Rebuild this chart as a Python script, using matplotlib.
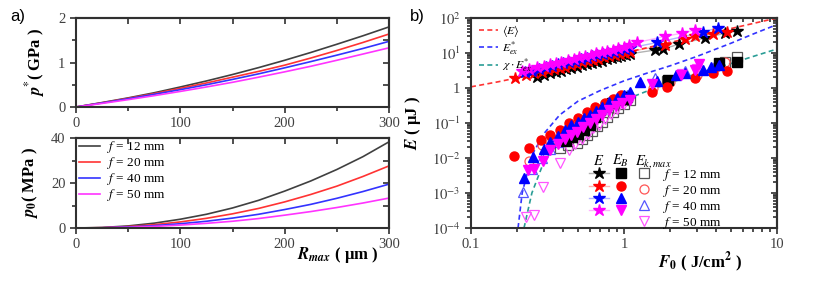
import matplotlib
matplotlib.use('Agg')
import matplotlib.pyplot as plt
from matplotlib.lines import Line2D
from matplotlib.ticker import FixedLocator, FixedFormatter, MultipleLocator, LogLocator, NullFormatter

# ---- panel a data ----
r_max = [0, 25, 50, 75, 100, 125, 150, 175, 200, 225, 250, 275, 300]
focal = ['12', '20', '40', '50']
pstar_12 = [0, 0.10, 0.205, 0.32, 0.45, 0.585, 0.73, 0.885, 1.05, 1.225, 1.41, 1.60, 1.80]
pstar_20 = [0, 0.095, 0.195, 0.30, 0.42, 0.54, 0.67, 0.80, 0.94, 1.10, 1.27, 1.45, 1.64]
pstar_40 = [0, 0.09, 0.185, 0.285, 0.39, 0.50, 0.62, 0.745, 0.88, 1.02, 1.165, 1.315, 1.475]
pstar_50 = [0, 0.08, 0.165, 0.255, 0.35, 0.45, 0.555, 0.67, 0.79, 0.915, 1.05, 1.19, 1.33]
p0_12 = [0, 0.22, 0.92, 2.15, 3.9, 6.1, 8.9, 12.3, 16.4, 20.9, 26.0, 31.7, 38.3]
p0_20 = [0, 0.15, 0.63, 1.48, 2.7, 4.3, 6.3, 8.7, 11.6, 14.9, 18.6, 22.9, 27.6]
p0_40 = [0, 0.11, 0.44, 1.04, 1.9, 3.0, 4.4, 6.1, 8.2, 10.5, 13.2, 16.2, 19.5]
p0_50 = [0, 0.075, 0.30, 0.71, 1.3, 2.07, 3.0, 4.2, 5.7, 7.3, 9.1, 11.1, 13.3]

# ---- panel b: model curves ----
fit_mean_F = [0.1, 0.15, 0.2, 0.3, 0.5, 0.7, 1.0, 2.0, 3.0, 5.0, 7.0, 10.0]
fit_mean_E = [1.08, 1.5, 1.95, 2.9, 4.9, 7.0, 10.0, 20.0, 30.0, 50.0, 70.0, 100.0]
fit_ex_F = [0.203, 0.216, 0.25, 0.3, 0.38, 0.5, 0.7, 1.0, 1.5, 2.0, 3.0, 5.0, 7.0, 10.0]
fit_ex_E = [1e-4, 1e-3, 0.012, 0.05, 0.17, 0.42, 0.85, 1.6, 2.9, 4.3, 8.0, 19.0, 35.0, 65.0]
fit_chi_F = [0.222, 0.25, 0.3, 0.4, 0.5, 0.7, 1.0, 1.5, 2.0, 3.0, 5.0, 7.0, 10.0]
fit_chi_E = [1e-4, 1e-3, 8e-3, 0.04, 0.09, 0.22, 0.45, 0.9, 1.4, 2.6, 5.0, 8.0, 13.0]

# ---- panel b: total energy E (stars) ----
star12_F = [0.27, 0.30, 0.33, 0.36, 0.39, 0.42, 0.45, 0.49, 0.53, 0.57, 0.62, 0.67, 0.72, 0.78, 0.84, 0.90, 0.96, 1.03, 1.10, 1.6, 1.8, 2.3, 3.4, 4.6, 5.5]
star12_E = [2.05, 2.3, 2.6, 2.9, 3.1, 3.4, 3.7, 4.0, 4.4, 4.8, 5.2, 5.6, 6.0, 6.6, 7.1, 7.7, 8.3, 8.9, 9.5, 12.2, 13.0, 18, 27, 37, 43]
star20_F = [0.195, 0.23, 0.26, 0.29, 0.32, 0.35, 0.38, 0.41, 0.45, 0.49, 0.53, 0.58, 0.63, 0.68, 0.74, 0.80, 0.87, 0.94, 1.02, 1.10, 1.85, 2.5, 2.9, 3.8, 4.7]
star20_E = [1.9, 2.3, 2.6, 2.9, 3.2, 3.5, 3.8, 4.1, 4.5, 4.9, 5.4, 5.9, 6.4, 6.9, 7.5, 8.1, 8.8, 9.5, 10.3, 11.0, 17, 25, 30, 36, 40]
star40_F = [0.225, 0.25, 0.28, 0.31, 0.34, 0.37, 0.40, 0.44, 0.48, 0.52, 0.57, 0.62, 0.67, 0.73, 0.79, 0.86, 0.93, 1.01, 1.10, 1.65, 3.3, 4.1]
star40_E = [2.8, 3.1, 3.5, 3.9, 4.3, 4.7, 5.1, 5.6, 6.1, 6.7, 7.3, 8.0, 8.7, 9.4, 10.2, 11.0, 12.0, 13.0, 14.0, 20, 40, 52]
star50_F = [0.215, 0.24, 0.27, 0.30, 0.33, 0.36, 0.39, 0.43, 0.47, 0.51, 0.56, 0.61, 0.66, 0.72, 0.78, 0.85, 0.92, 1.0, 1.08, 1.22, 1.86, 2.4, 2.9]
star50_E = [3.0, 3.5, 3.9, 4.3, 4.8, 5.2, 5.7, 6.3, 6.9, 7.5, 8.2, 8.9, 9.7, 10.6, 11.5, 12.5, 13.6, 15, 16.5, 20, 30, 37, 45]

# ---- panel b: bubble energy E_B (filled) ----
eb12_F = [0.42, 0.46, 0.50, 0.55, 0.60, 0.65, 0.70, 0.76, 0.83, 0.91, 0.98, 1.05, 1.93, 4.2, 5.5]
eb12_E = [0.03, 0.04, 0.05, 0.065, 0.085, 0.15, 0.24, 0.3, 0.38, 0.46, 0.5, 0.55, 1.7, 5.2, 5.6]
eb20_F = [0.192, 0.24, 0.286, 0.33, 0.38, 0.44, 0.50, 0.57, 0.65, 0.75, 0.85, 0.95, 1.52, 1.9, 2.9, 3.8, 4.7]
eb20_E = [0.0114, 0.019, 0.033, 0.046, 0.063, 0.10, 0.14, 0.2, 0.28, 0.38, 0.5, 0.62, 0.75, 1.1, 1.9, 2.6, 3.1]
eb40_F = [0.222, 0.254, 0.30, 0.33, 0.37, 0.41, 0.45, 0.50, 0.55, 0.60, 0.66, 0.72, 0.80, 0.90, 1.0, 1.09, 1.28, 1.64, 2.2, 2.5, 3.3, 3.7, 4.2]
eb40_E = [0.0026, 0.0106, 0.018, 0.028, 0.042, 0.063, 0.085, 0.11, 0.14, 0.17, 0.22, 0.29, 0.40, 0.52, 0.64, 0.77, 1.5, 1.6, 2.3, 2.6, 3.3, 4.0, 4.6]
eb50_F = [0.236, 0.26, 0.296, 0.33, 0.37, 0.41, 0.45, 0.49, 0.54, 0.60, 0.66, 0.72, 0.80, 0.88, 0.97, 1.09, 1.52, 2.37, 2.9, 3.1]
eb50_E = [0.0046, 0.0047, 0.008, 0.017, 0.025, 0.034, 0.045, 0.056, 0.075, 0.1, 0.13, 0.17, 0.23, 0.3, 0.38, 0.46, 1.3, 2.4, 3.3, 5.0]

# ---- panel b: max kinetic energy E_k,max (open) ----
ek12_F = [0.38, 0.43, 0.49, 0.53, 0.57, 0.62, 0.67, 0.72, 0.78, 0.85, 0.92, 1.0, 1.1, 1.9, 4.6, 5.5]
ek12_E = [0.019, 0.024, 0.027, 0.035, 0.045, 0.06, 0.08, 0.11, 0.15, 0.2, 0.26, 0.34, 0.45, 1.6, 5.6, 7.7]
ek20_F = [0.24, 0.29, 0.34, 0.40, 0.46, 0.53, 0.60, 0.68, 0.78, 0.9, 1.0, 1.55, 2.0, 3.0, 4.0, 4.6]
ek20_E = [0.008, 0.023, 0.035, 0.05, 0.08, 0.12, 0.17, 0.24, 0.33, 0.45, 0.6, 1.0, 1.5, 2.4, 4.0, 5.6]
ek40_F = [0.219, 0.25, 0.29, 0.33, 0.37, 0.42, 0.47, 0.53, 0.59, 0.66, 0.74, 0.83, 0.93, 1.05, 1.6, 2.5, 4.0]
ek40_E = [0.0011, 0.005, 0.01, 0.018, 0.028, 0.045, 0.065, 0.09, 0.13, 0.18, 0.25, 0.35, 0.48, 0.65, 1.9, 3.1, 5.2]
ek50_F = [0.229, 0.26, 0.296, 0.38, 0.44, 0.48, 0.53, 0.58, 0.63, 0.69, 0.75, 0.82, 0.9, 1.0, 1.55, 2.4, 3.0]
ek50_E = [0.0002, 0.00023, 0.0015, 0.0073, 0.017, 0.025, 0.035, 0.05, 0.07, 0.09, 0.13, 0.18, 0.25, 0.34, 1.2, 2.5, 3.5]

# ---- style ----
plt.rcParams['font.family'] = ['Liberation Serif', 'DejaVu Serif']
plt.rcParams['mathtext.fontset'] = 'stix'
TICK_COL = '#404040'
SPINE_COL = '#303030'
LINE_COLS = ['#404040', '#FF3333', '#3333FF', '#FF33FF']
DOT_COLS = ['#000000', '#FF0000', '#0000FF', '#FF00FF']
OPEN_COLS = ['#555555', '#FF5555', '#5555FF', '#FF55FF']
FILL_MARK = ['s', 'o', '^', 'v']


def Frame(ax):
    # Frame(): thick spines, outward ticks bottom/left, inward ticks top/right
    for s in ax.spines.values():
        s.set_linewidth(1.5)
        s.set_color(SPINE_COL)
    ax.tick_params(which='both', direction='out', colors=SPINE_COL, labelcolor=TICK_COL,
                   labelsize=10.5, width=1.2)
    ax.tick_params(which='major', length=4)
    ax.tick_params(which='minor', length=3)
    top = ax.secondary_xaxis('top')
    right = ax.secondary_yaxis('right')
    for sec in (top, right):
        sec.tick_params(which='both', direction='in', colors=SPINE_COL, width=1.2,
                        labelleft=False, labelright=False, labeltop=False, labelbottom=False)
        sec.tick_params(which='major', length=4)
        sec.tick_params(which='minor', length=3)
        for s in sec.spines.values():
            s.set_linewidth(1.5)
            s.set_color(SPINE_COL)
    return top, right


fig = plt.figure(figsize=(8.30, 2.81), dpi=100)
W, H = 830.0, 281.0
ax1 = fig.add_axes([76 / W, 1 - 107 / H, 313 / W, 89 / H])
ax2 = fig.add_axes([76 / W, 1 - 228 / H, 313 / W, 90 / H])
axb = fig.add_axes([471 / W, 1 - 228 / H, 306 / W, 210 / H])

# ---- panel a ----
pstar_all = [pstar_12, pstar_20, pstar_40, pstar_50]
p0_all = [p0_12, p0_20, p0_40, p0_50]
for i in range(4):
    ax1.plot(r_max, pstar_all[i], color=LINE_COLS[i], lw=1.2)
    ax2.plot(r_max, p0_all[i], color=LINE_COLS[i], lw=1.2, label=r'$f$ = ' + focal[i] + ' mm')

for ax, ylim, major, minor in ((ax1, (0, 2), 1, 0.5), (ax2, (0, 40), 20, 10)):
    ax.set_xlim(0, 300)
    ax.set_ylim(*ylim)
    ax.xaxis.set_major_locator(MultipleLocator(100))
    ax.xaxis.set_minor_locator(MultipleLocator(50))
    ax.yaxis.set_major_locator(MultipleLocator(major))
    ax.yaxis.set_minor_locator(MultipleLocator(minor))
    t, r = Frame(ax)
    t.xaxis.set_major_locator(MultipleLocator(50))
    r.yaxis.set_major_locator(MultipleLocator(minor))

ax1.set_ylabel(r'$\mathbfit{p}^{*}$( GPa )', fontsize=12, fontweight='bold', labelpad=8)
ax2.set_ylabel(r'$\mathbfit{p}_{\mathbf{0}}$( MPa )', fontsize=12, fontweight='bold', labelpad=8)
ax2.set_xlabel(r'$\mathbfit{R}_{\mathbfit{max}}$ ( μm )', fontsize=12, fontweight='bold')
ax2.xaxis.set_label_coords(0.835, -0.19)
ax2.legend(loc='upper left', bbox_to_anchor=(0.01, 0.985), frameon=False, fontsize=9.5,
           handlelength=1.55, handletextpad=0.55, labelspacing=0.0, borderpad=0, borderaxespad=0)

# ---- panel b ----
axb.set_xscale('log')
axb.set_yscale('log')
axb.plot(fit_mean_F, fit_mean_E, ls=(0, (3, 2)), color='#FF3333', lw=1.2, zorder=1, label=r'$\langle E\rangle$')
axb.plot(fit_ex_F, fit_ex_E, ls=(0, (3, 2)), color='#3333FF', lw=1.2, zorder=1, label=r'$E^{*}_{ex}$')
axb.plot(fit_chi_F, fit_chi_E, ls=(0, (3, 2)), color='#2A9D96', lw=1.2, zorder=1, label=r'$\chi\cdot E^{*}_{ex}$')
leg1 = axb.legend(loc='upper left', bbox_to_anchor=(0.025, 0.975), frameon=False, fontsize=8.5,
                  handlelength=1.6, handletextpad=0.4, labelspacing=0.0, borderpad=0, borderaxespad=0)
axb.add_artist(leg1)

star_F = [star12_F, star20_F, star40_F, star50_F]
star_E = [star12_E, star20_E, star40_E, star50_E]
eb_F = [eb12_F, eb20_F, eb40_F, eb50_F]
eb_E = [eb12_E, eb20_E, eb40_E, eb50_E]
ek_F = [ek12_F, ek20_F, ek40_F, ek50_F]
ek_E = [ek12_E, ek20_E, ek40_E, ek50_E]
for i in range(4):
    axb.plot(star_F[i], star_E[i], color=DOT_COLS[i], alpha=0.3, lw=1.0, zorder=2)
    axb.plot(star_F[i], star_E[i], ls='none', marker='*', ms=9, color=DOT_COLS[i], mec=DOT_COLS[i], zorder=3)
for i in range(4):
    axb.plot(ek_F[i], ek_E[i], ls='none', marker=FILL_MARK[i], ms=6.5, mfc='none', mec=OPEN_COLS[i], mew=0.9, zorder=3)
    axb.plot(eb_F[i], eb_E[i], ls='none', marker=FILL_MARK[i], ms=6.5, color=DOT_COLS[i], zorder=4)

axb.set_xlim(0.1, 10)
axb.set_ylim(1e-4, 1e2)
axb.xaxis.set_major_locator(FixedLocator([0.1, 1, 10]))
axb.xaxis.set_major_formatter(FixedFormatter(['0.1', '1', '10']))
axb.xaxis.set_minor_locator(LogLocator(base=10, subs=range(2, 10)))
axb.xaxis.set_minor_formatter(NullFormatter())
axb.yaxis.set_major_locator(FixedLocator([1e-4, 1e-3, 1e-2, 1e-1, 1, 10, 100]))
axb.yaxis.set_major_formatter(FixedFormatter([r'$10^{-4}$', r'$10^{-3}$', r'$10^{-2}$', r'$10^{-1}$', '1', r'$10^{1}$', r'$10^{2}$']))
axb.yaxis.set_minor_locator(LogLocator(base=10, subs=range(2, 10)))
axb.yaxis.set_minor_formatter(NullFormatter())
tb, rb = Frame(axb)
tb.xaxis.set_minor_locator(LogLocator(base=10, subs=range(2, 10)))
rb.yaxis.set_minor_locator(LogLocator(base=10, subs=range(2, 10)))

axb.set_ylabel(r'$\mathbfit{E}$ ( μJ )', fontsize=12, fontweight='bold', labelpad=6)
axb.set_xlabel(r'$\mathbfit{F}_{\mathbf{0}}$ ( J/cm$^{\mathbf{2}}$ )', fontsize=12, fontweight='bold')
axb.xaxis.set_label_coords(0.75, -0.105)

# table legend: E | E_B | E_k,max
handles = []
labels = []
for i in range(4):
    faint = Line2D([], [], color=DOT_COLS[i], alpha=0.3, lw=1.0)
    star = Line2D([], [], ls='none', marker='*', ms=9, color=DOT_COLS[i])
    handles.append((faint, star))
    labels.append('')
for i in range(4):
    handles.append(Line2D([], [], ls='none', marker=FILL_MARK[i], ms=6.5, color=DOT_COLS[i]))
    labels.append('')
for i in range(4):
    handles.append(Line2D([], [], ls='none', marker=FILL_MARK[i], ms=6.5, mfc='none',
                          mec=OPEN_COLS[i], mew=0.9))
    labels.append('   ' + r'$f$ = ' + focal[i] + ' mm')
axb.legend(handles, labels, ncol=3, loc='upper left', bbox_to_anchor=(0.385, 0.29), frameon=False,
           fontsize=9.5, handlelength=1.55, handletextpad=0.05, columnspacing=0.1,
           labelspacing=0.0, borderpad=0, borderaxespad=0)
axb.text(0.418, 0.318, r'$E$', transform=axb.transAxes, fontsize=10.5, ha='center', va='center')
axb.text(0.49, 0.318, r'$E_B$', transform=axb.transAxes, fontsize=10.5, ha='center', va='center')
axb.text(0.595, 0.318, r'$E_{k,max}$', transform=axb.transAxes, fontsize=10.5, ha='center', va='center')

fig.text(18 / W, 1 - 17 / H, 'a)', family='Liberation Sans', fontsize=12, ha='center', va='center')
fig.text(417 / W, 1 - 17 / H, 'b)', family='Liberation Sans', fontsize=12, ha='center', va='center')

fig.savefig('out.png', dpi=100)
